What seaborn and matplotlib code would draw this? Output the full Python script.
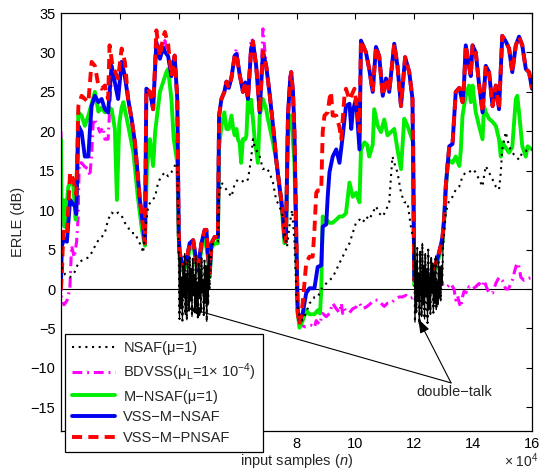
import numpy as np
import matplotlib
matplotlib.use("Agg")
import matplotlib.pyplot as plt
import seaborn as sns
from matplotlib.ticker import FuncFormatter, MultipleLocator

# Sample positions are listed in units of 10^4 input samples.
UNIT = 1e4

# ---- NSAF (mu = 1) ----
nsaf_n_a = [0.00, 0.03, 0.15, 0.31, 0.47, 0.59, 0.70, 0.81, 0.93, 1.04,
            1.15, 1.27, 1.38, 1.49, 1.60, 1.72, 1.83, 1.94, 2.06, 2.17,
            2.28, 2.40, 2.51, 2.62, 2.73, 2.79, 2.85, 2.96, 3.08, 3.19,
            3.30, 3.41, 3.53, 3.64, 3.75, 3.86, 3.95]
nsaf_a = [7.0, 2.5, 1.8, 1.5, 2.2, 3.3, 3.6, 3.8, 4.0, 4.6,
          5.4, 6.2, 6.6, 7.1, 8.8, 9.7, 9.4, 9.7, 9.3, 8.4,
          7.8, 7.1, 7.1, 6.2, 5.4, 4.6, 7.0, 10.5, 11.3, 11.6,
          13.5, 14.3, 14.8, 14.3, 14.8, 15.6, 16.0]
# first double-talk interval (4.00 .. 5.05)
dt1_span = (4.00, 5.05)
nsaf_dt1 = [4.5, -3.8, 3.9, -2.5, 1.5, -4.0, 3.0, -1.0, 4.5, -3.2,
            2.0, -3.9, 3.8, 0.5, -2.8, 4.1, -1.5, 2.6, -3.5, 3.9,
            -0.8, 1.8, -3.0, 4.4, -2.2, 0.9, -3.6, 3.2, -1.2, 2.5,
            -2.9, 4.0, -0.5, 1.2, -3.3, 3.6, -1.8, 2.9, -4.1, 3.0,
            -2.0, 4.3, 0.0]
nsaf_n_b = [5.11, 5.22, 5.33, 5.37, 5.45, 5.62, 5.79, 5.90, 6.01, 6.12,
            6.24, 6.35, 6.46, 6.52, 6.58, 6.75, 6.86, 6.97, 7.08, 7.20,
            7.31, 7.42, 7.54, 7.62, 7.68, 7.76, 7.85, 7.93, 8.00, 8.10,
            8.20, 8.33, 8.44, 8.55, 8.61, 8.72, 8.89, 9.01, 9.12, 9.23,
            9.35, 9.46, 9.57, 9.68, 9.80, 9.91, 10.02, 10.14, 10.25, 10.36,
            10.47, 10.59, 10.70, 10.81, 10.93, 11.04, 11.15, 11.21, 11.26, 11.32,
            11.43, 11.55, 11.66, 11.77, 11.90]
nsaf_b = [5.5, 5.9, 6.0, 12.0, 13.5, 12.6, 11.7, 13.3, 13.9, 13.8,
          13.5, 13.9, 16.5, 19.0, 18.0, 16.8, 15.2, 15.4, 14.8, 13.5,
          11.3, 10.5, 9.2, 6.5, 5.4, 8.0, 10.0, 6.0, -1.0, -3.5,
          -4.0, -3.0, -1.8, -1.5, -1.0, -1.0, 0.3, 0.7, 1.1, 1.5,
          2.4, 3.3, 4.1, 5.0, 5.8, 7.1, 8.4, 8.8, 8.4, 9.2,
          8.8, 9.7, 10.5, 9.6, 9.2, 10.0, 11.0, 14.3, 16.8, 16.0,
          14.8, 12.2, 11.0, 11.0, 7.5]
# second double-talk interval (12.00 .. 13.00)
dt2_span = (12.00, 13.00)
nsaf_dt2 = [6.0, -4.2, 3.5, -3.0, 5.2, -1.5, 2.0, -4.4, 4.8, 0.5,
            -3.5, 5.8, -2.0, 3.0, -3.8, 4.5, -1.0, 2.5, -4.3, 5.0,
            -2.5, 1.5, -3.2, 4.0, -0.5, 3.3, -3.0, 2.0, -1.8, 4.2,
            -2.6, 1.0, -2.0, 3.5, -1.2, 2.8, -1.5, 3.0, 0.5, 5.0,
            6.5]
nsaf_n_c = [13.02, 13.07, 13.13, 13.19, 13.30, 13.41, 13.53, 13.64, 13.75, 13.86,
            13.98, 14.09, 14.20, 14.32, 14.37, 14.43, 14.54, 14.66, 14.77, 14.88,
            14.94, 14.99, 15.11, 15.22, 15.33, 15.45, 15.56, 15.67, 15.79, 15.90,
            16.00]
nsaf_c = [7.1, 9.7, 10.5, 11.3, 11.7, 12.6, 13.0, 14.3, 14.8, 14.8,
          15.2, 14.8, 13.9, 13.0, 14.3, 15.6, 14.8, 13.9, 13.0, 12.6,
          14.8, 17.7, 19.9, 18.1, 17.3, 16.8, 16.4, 17.3, 17.5, 17.7,
          17.7]

# ---- BDVSS (mu_L = 1e-4) ----
bdvss_n = [0.00, 0.01, 0.10, 0.20, 0.30, 0.36, 0.45, 0.53, 0.58, 0.62,
           0.70, 0.81, 0.93, 0.98, 1.04, 1.10, 1.21, 1.32, 1.43, 1.49,
           1.60, 1.72, 1.83, 1.94, 2.06, 2.17, 2.28, 2.40, 2.51, 2.68,
           2.79, 2.85, 2.90, 3.02, 3.13, 3.24, 3.36, 3.47, 3.53, 3.64,
           3.75, 3.86, 3.95, 4.00, 4.03, 4.15, 4.26, 4.37, 4.49, 4.60,
           4.65, 4.77, 4.88, 4.94, 4.99, 5.05, 5.11, 5.22, 5.33, 5.37,
           5.45, 5.55, 5.62, 5.70, 5.79, 5.90, 5.96, 6.07, 6.18, 6.26,
           6.35, 6.46, 6.52, 6.63, 6.75, 6.86, 6.97, 7.08, 7.25, 7.31,
           7.42, 7.48, 7.54, 7.59, 7.64, 7.71, 7.78, 7.82, 7.88, 7.93,
           7.99, 8.04, 8.10, 8.30, 8.50, 8.61, 8.67, 8.78, 8.89, 9.01,
           9.12, 9.23, 9.35, 9.46, 9.52, 9.57, 9.63, 9.68, 9.80, 9.91,
           10.02, 10.14, 10.25, 10.36, 10.47, 10.64, 10.76, 10.87, 10.98, 11.09,
           11.21, 11.32, 11.49, 11.60, 11.72, 11.85, 12.00, 12.20, 12.40, 12.60,
           12.75, 12.90, 13.02, 13.13, 13.24, 13.35, 13.41, 13.47, 13.53, 13.58,
           13.64, 13.69, 13.81, 13.86, 13.98, 14.09, 14.20, 14.32, 14.37, 14.48,
           14.54, 14.66, 14.77, 14.88, 14.99, 15.11, 15.20, 15.33, 15.42, 15.49,
           15.56, 15.62, 15.73, 15.84, 16.00]
bdvss = [20.0, -1.0, -2.0, -1.5, 0.0, 5.5, 4.0, 6.0, 9.0, 16.0,
         16.0, 15.5, 15.2, 14.3, 17.0, 21.6, 21.0, 19.9, 20.5, 19.0,
         19.0, 27.5, 26.2, 24.1, 28.8, 27.0, 24.1, 21.5, 18.6, 11.3,
         7.9, 5.8, 25.4, 25.0, 22.8, 31.3, 29.2, 30.6, 31.5, 29.5,
         27.0, 29.6, 24.1, 7.1, 4.6, 2.8, 3.5, 5.8, 6.2, 3.5,
         2.4, 5.8, 7.5, 7.5, 4.5, 2.0, 5.8, 6.6, 6.6, 22.0,
         24.1, 25.0, 26.3, 25.5, 26.8, 29.6, 30.5, 27.2, 25.0, 26.2,
         24.1, 31.8, 31.4, 28.3, 22.4, 33.0, 28.3, 25.0, 19.0, 16.4,
         13.0, 11.3, 9.2, 6.6, 6.0, 22.0, 27.0, 27.5, 25.0, 19.9,
         7.1, -2.7, -4.5, -4.8, -4.6, -4.9, -4.0, -4.5, -3.1, -3.5,
         -3.1, -1.8, -2.5, -3.0, -1.8, -3.1, -2.5, -2.8, -3.0, -2.5,
         -2.3, -1.8, -2.5, -2.3, -2.0, -1.4, -1.4, -1.8, -2.2, -1.8,
         -1.8, -1.4, -1.0, -1.0, -0.8, -1.2, -1.0, -0.5, 0.0, 0.3,
         0.7, 0.5, 0.7, 0.3, 0.7, 0.0, -1.4, -0.8, -1.8, -2.3,
         -1.0, -0.3, -0.5, 0.3, 0.0, 0.3, 0.7, 0.3, 1.1, 0.0,
         -0.5, -0.5, 0.7, 1.5, 1.1, 0.0, 0.0, 1.1, 2.4, 3.3,
         2.8, 1.5, 1.1, 1.3, 1.5]

# ---- M-NSAF (mu = 1) ----
mnsaf_n = [0.00, 0.02, 0.08, 0.12, 0.25, 0.36, 0.42, 0.50, 0.59, 0.70,
           0.81, 0.93, 1.04, 1.15, 1.27, 1.38, 1.49, 1.60, 1.72, 1.83,
           1.90, 1.98, 2.06, 2.12, 2.24, 2.35, 2.46, 2.60, 2.75, 2.85,
           2.92, 3.02, 3.13, 3.20, 3.36, 3.58, 3.64, 3.75, 3.83, 3.95,
           4.00, 4.03, 4.15, 4.26, 4.37, 4.49, 4.60, 4.65, 4.77, 4.88,
           4.99, 5.05, 5.11, 5.22, 5.33, 5.37, 5.45, 5.55, 5.62, 5.70,
           5.79, 5.85, 5.90, 5.96, 6.01, 6.07, 6.12, 6.18, 6.26, 6.30,
           6.35, 6.40, 6.46, 6.58, 6.69, 6.75, 6.86, 6.97, 7.03, 7.08,
           7.20, 7.31, 7.48, 7.59, 7.64, 7.71, 7.82, 7.93, 7.99, 8.04,
           8.10, 8.21, 8.33, 8.44, 8.61, 8.72, 8.80, 8.84, 8.89, 9.01,
           9.12, 9.23, 9.35, 9.46, 9.57, 9.68, 9.80, 9.91, 10.02, 10.14,
           10.19, 10.31, 10.40, 10.47, 10.59, 10.64, 10.76, 10.87, 10.98, 11.09,
           11.21, 11.32, 11.43, 11.55, 11.66, 11.77, 11.89, 11.97, 12.00, 12.15,
           12.30, 12.50, 12.65, 12.80, 12.90, 12.96, 13.02, 13.07, 13.13, 13.19,
           13.30, 13.41, 13.53, 13.58, 13.64, 13.75, 13.86, 13.92, 13.98, 14.09,
           14.20, 14.32, 14.37, 14.43, 14.54, 14.66, 14.77, 14.88, 14.94, 14.99,
           15.11, 15.22, 15.33, 15.45, 15.50, 15.56, 15.67, 15.79, 15.85, 16.00]
mnsaf = [19.0, 8.8, 11.3, 7.9, 13.0, 13.9, 13.0, 8.8, 22.4, 22.0,
         20.7, 22.0, 23.5, 25.0, 22.5, 23.0, 22.4, 22.8, 22.8, 20.3,
         11.3, 21.0, 23.0, 23.7, 21.5, 19.4, 17.3, 12.0, 7.5, 5.5,
         15.5, 19.0, 15.6, 20.0, 25.0, 27.5, 27.9, 24.1, 19.0, 16.0,
         6.5, 4.0, 2.3, 3.0, 5.0, 5.5, 3.0, 2.0, 5.0, 6.8,
         4.0, 1.5, 5.2, 5.8, 5.8, 18.0, 20.7, 22.4, 20.3, 20.3,
         22.0, 20.3, 19.5, 20.3, 19.0, 18.5, 16.0, 19.0, 19.0, 19.5,
         24.1, 22.4, 24.0, 19.0, 16.0, 22.0, 24.1, 22.8, 21.5, 20.7,
         18.6, 16.4, 11.3, 5.8, 6.0, 20.0, 22.0, 16.0, 6.0, -3.0,
         -4.9, -4.0, -2.7, -3.2, -3.2, -2.7, -3.1, -0.1, 9.2, 8.8,
         8.4, 8.4, 8.8, 9.2, 9.2, 9.6, 13.5, 11.7, 12.2, 11.0,
         17.7, 18.6, 18.3, 16.8, 18.3, 22.8, 20.7, 19.9, 21.5, 19.5,
         19.9, 20.3, 17.7, 15.2, 21.6, 20.7, 19.4, 18.6, 0.5, 1.0,
         0.5, 1.0, 2.0, 3.5, 5.0, 6.0, 9.0, 12.5, 16.0, 16.3,
         16.0, 16.8, 15.6, 17.5, 22.0, 24.5, 25.8, 23.7, 25.8, 22.4,
         20.7, 19.0, 23.2, 22.4, 21.6, 21.2, 20.7, 19.0, 16.8, 18.6,
         17.9, 17.3, 18.0, 24.1, 24.5, 22.4, 18.1, 16.8, 18.1, 17.7]

# ---- VSS-M-NSAF ----
vss_nsaf_n = [0.00, 0.03, 0.10, 0.20, 0.31, 0.40, 0.47, 0.52, 0.59, 0.70,
              0.81, 0.93, 0.98, 1.04, 1.15, 1.27, 1.38, 1.49, 1.60, 1.72,
              1.83, 1.94, 2.06, 2.17, 2.28, 2.40, 2.51, 2.68, 2.79, 2.85,
              2.90, 3.02, 3.13, 3.24, 3.36, 3.47, 3.53, 3.64, 3.75, 3.86,
              3.95, 4.00, 4.03, 4.15, 4.26, 4.37, 4.49, 4.60, 4.65, 4.77,
              4.88, 4.94, 4.99, 5.05, 5.11, 5.22, 5.33, 5.37, 5.45, 5.55,
              5.62, 5.70, 5.79, 5.90, 5.96, 6.07, 6.18, 6.26, 6.35, 6.46,
              6.52, 6.63, 6.75, 6.86, 6.97, 7.08, 7.25, 7.31, 7.42, 7.48,
              7.54, 7.59, 7.64, 7.71, 7.78, 7.82, 7.88, 7.93, 7.99, 8.04,
              8.10, 8.21, 8.33, 8.44, 8.61, 8.72, 8.84, 8.89, 9.01, 9.06,
              9.12, 9.23, 9.35, 9.46, 9.57, 9.68, 9.80, 9.86, 9.91, 10.02,
              10.14, 10.19, 10.36, 10.47, 10.59, 10.70, 10.81, 10.93, 11.04, 11.15,
              11.32, 11.43, 11.55, 11.69, 11.83, 11.94, 12.00, 12.15, 12.30, 12.50,
              12.65, 12.80, 12.90, 12.96, 13.02, 13.07, 13.13, 13.19, 13.30, 13.41,
              13.53, 13.64, 13.69, 13.75, 13.86, 13.92, 13.98, 14.09, 14.20, 14.32,
              14.43, 14.54, 14.66, 14.77, 14.88, 14.99, 15.11, 15.22, 15.33, 15.45,
              15.56, 15.67, 15.79, 15.90, 16.00]
vss_nsaf = [1.0, 5.5, 6.3, 6.0, 11.3, 10.8, 10.5, 9.5, 20.7, 19.9,
            16.8, 16.8, 20.0, 23.2, 24.5, 23.7, 24.1, 22.8, 22.4, 28.3,
            26.2, 24.1, 28.8, 27.0, 24.1, 21.5, 18.6, 11.3, 7.9, 5.8,
            25.4, 25.0, 22.8, 31.3, 29.2, 30.6, 30.1, 29.5, 27.0, 29.6,
            24.1, 7.1, 4.6, 2.8, 3.5, 5.8, 6.2, 3.5, 2.4, 5.8,
            7.5, 7.5, 4.5, 2.0, 5.8, 6.6, 6.6, 22.0, 24.1, 25.0,
            26.3, 25.5, 26.8, 29.6, 29.8, 27.2, 25.0, 26.2, 24.1, 30.5,
            31.4, 28.3, 22.4, 30.1, 28.3, 25.0, 19.0, 16.4, 13.0, 11.3,
            9.2, 6.6, 6.0, 22.0, 26.3, 27.5, 25.0, 19.9, 7.1, -2.7,
            -4.0, -3.1, -0.5, 0.1, 0.1, 2.8, 3.0, 7.9, 8.2, 11.7,
            14.8, 16.8, 17.7, 16.0, 19.4, 23.2, 23.5, 20.3, 22.5, 24.1,
            17.7, 31.5, 30.0, 27.9, 25.0, 30.7, 29.5, 24.5, 26.7, 25.0,
            31.1, 28.3, 23.2, 29.4, 27.5, 24.1, 1.1, 1.5, 0.8, 1.5,
            2.5, 4.0, 5.5, 6.6, 9.2, 13.0, 15.6, 18.1, 18.4, 25.0,
            25.5, 23.7, 26.0, 30.9, 28.3, 27.0, 30.9, 30.0, 26.0, 22.4,
            28.3, 27.5, 23.2, 25.8, 22.8, 32.1, 31.4, 30.5, 27.5, 30.9,
            32.0, 30.9, 27.9, 27.5, 25.4]

# ---- VSS-M-PNSAF ----
vss_pnsaf_n = [0.00, 0.03, 0.08, 0.20, 0.31, 0.40, 0.47, 0.52, 0.59, 0.70,
               0.81, 0.93, 1.04, 1.15, 1.27, 1.38, 1.49, 1.60, 1.65, 1.75,
               1.94, 2.06, 2.17, 2.28, 2.40, 2.51, 2.68, 2.79, 2.85, 2.90,
               3.02, 3.13, 3.24, 3.36, 3.47, 3.53, 3.64, 3.75, 3.86, 3.95,
               4.00, 4.03, 4.15, 4.26, 4.37, 4.49, 4.60, 4.65, 4.77, 4.88,
               4.94, 4.99, 5.05, 5.11, 5.22, 5.33, 5.37, 5.45, 5.55, 5.62,
               5.70, 5.79, 5.90, 5.96, 6.07, 6.18, 6.26, 6.35, 6.46, 6.52,
               6.63, 6.75, 6.86, 6.97, 7.08, 7.25, 7.31, 7.42, 7.48, 7.54,
               7.59, 7.64, 7.71, 7.78, 7.82, 7.88, 7.93, 7.99, 8.04, 8.10,
               8.15, 8.21, 8.27, 8.33, 8.44, 8.55, 8.61, 8.67, 8.72, 8.84,
               8.89, 8.95, 9.06, 9.12, 9.17, 9.23, 9.35, 9.46, 9.52, 9.63,
               9.68, 9.80, 9.97, 10.08, 10.14,
               10.19, 10.36, 10.47, 10.59, 10.70, 10.81, 10.93, 11.04, 11.15, 11.32,
               11.43, 11.55, 11.69, 11.83, 11.94, 12.00, 12.15, 12.30, 12.50, 12.65,
               12.80, 12.90, 12.96, 13.02, 13.07, 13.13, 13.19, 13.30, 13.41, 13.53,
               13.64, 13.69, 13.75, 13.86, 13.92, 13.98, 14.09, 14.20, 14.32, 14.43,
               14.54, 14.66, 14.77, 14.88, 14.99, 15.11, 15.22, 15.33, 15.45, 15.56,
               15.67, 15.79, 15.90, 16.00]
vss_pnsaf = [0.0, 2.0, 7.5, 7.0, 14.8, 14.0, 13.0, 12.0, 23.2, 24.5,
             24.1, 23.7, 28.8, 28.3, 25.8, 25.4, 25.8, 24.1, 30.9, 28.3,
             26.7, 30.5, 28.8, 24.1, 21.5, 18.6, 11.3, 7.9, 5.8, 25.4,
             25.0, 22.8, 32.8, 29.5, 32.0, 32.6, 31.0, 27.0, 29.6, 24.1,
             7.1, 4.6, 2.8, 3.5, 5.8, 6.2, 3.5, 2.4, 5.8, 7.5,
             7.5, 4.5, 2.0, 5.8, 6.6, 6.6, 22.0, 24.1, 25.0, 26.3,
             25.5, 26.8, 29.6, 29.8, 27.2, 25.0, 26.2, 24.1, 30.5, 31.4,
             28.3, 22.4, 30.1, 28.3, 25.0, 19.0, 16.4, 13.0, 11.3, 9.2,
             6.6, 6.0, 22.0, 26.3, 27.5, 25.0, 19.9, 7.1, -3.0, -4.5,
             -3.5, -1.8, 0.7, 3.3, 4.1, 4.1, 7.5, 12.2, 12.5, 12.5,
             19.9, 22.0, 22.4, 24.1, 25.0, 22.0, 22.0, 20.5, 19.0, 24.5,
             25.4, 24.0, 25.4, 22.0, 20.0,
             31.5, 30.0, 27.9, 25.0, 30.7, 29.5, 24.5, 26.7, 25.0, 31.1,
             28.3, 23.2, 29.4, 27.5, 24.1, 1.1, 1.5, 0.8, 1.5, 2.5,
             4.0, 5.5, 6.6, 9.2, 13.0, 15.6, 18.1, 18.4, 25.0, 25.5,
             23.7, 26.0, 30.9, 28.3, 27.0, 30.9, 30.0, 26.0, 22.4, 28.3,
             27.5, 23.2, 25.8, 22.8, 32.1, 31.4, 30.5, 27.5, 30.9, 32.0,
             30.9, 27.9, 27.5, 25.4]

labels = ["NSAF(\u03bc=1)",
          "BDVSS(\u03bc$_\\mathregular{L}$=1\u00d7 10$^{\\mathregular{-4}}$)",
          "M\u2212NSAF(\u03bc=1)",
          "VSS\u2212M\u2212NSAF",
          "VSS\u2212M\u2212PNSAF"]
x_ticks = [0, 2, 4, 6, 8, 10, 12, 14, 16]
x_ticks_shown = [8, 10, 12, 14, 16]   # the others sit behind the legend box

# ---------------------------------------------------------------------------
sns.set_theme(style="white")
plt.rcParams["font.family"] = ["Liberation Sans", "DejaVu Sans"]
plt.rcParams["mathtext.fontset"] = "custom"
plt.rcParams["mathtext.rm"] = "Liberation Sans"
plt.rcParams["mathtext.it"] = "Liberation Sans:italic"
plt.rcParams["mathtext.bf"] = "Liberation Sans:bold"
plt.rcParams["axes.unicode_minus"] = True

FS = 10.5
fig = plt.figure(figsize=(5.4, 4.7), dpi=100)
ax = fig.add_axes([61 / 540, 1 - 431 / 470, 471 / 540, 418 / 470])

dt1_n = np.linspace(dt1_span[0], dt1_span[1], len(nsaf_dt1))
dt2_n = np.linspace(dt2_span[0], dt2_span[1], len(nsaf_dt2))
nsaf_n = np.concatenate([nsaf_n_a, dt1_n, nsaf_n_b, dt2_n, nsaf_n_c]) * UNIT
nsaf = np.concatenate([nsaf_a, nsaf_dt1, nsaf_b, nsaf_dt2, nsaf_c])

common = dict(ax=ax, estimator=None, sort=False, legend=False)

h_bd = sns.lineplot(x=np.array(bdvss_n) * UNIT, y=bdvss, color="#ff00ff", lw=2.2,
                    linestyle=(0, (3.2, 1.6, 0.6, 1.6)), **common).lines[-1]
h_m = sns.lineplot(x=np.array(mnsaf_n) * UNIT, y=mnsaf, color="#00ee00", lw=2.8,
                   **common).lines[-1]
h_v = sns.lineplot(x=np.array(vss_nsaf_n) * UNIT, y=vss_nsaf, color="#0000ee", lw=2.8,
                   **common).lines[-1]
h_p = sns.lineplot(x=np.array(vss_pnsaf_n) * UNIT, y=vss_pnsaf, color="#ff0000", lw=2.8,
                   linestyle=(0, (2.6, 1.6)), **common).lines[-1]
h_n = sns.lineplot(x=nsaf_n, y=nsaf, color="black", lw=1.5,
                   linestyle=(0, (1, 2.2)), **common).lines[-1]
# the strongly fluctuating double-talk stretches read as a continuous trace
sns.lineplot(x=dt1_n * UNIT, y=nsaf_dt1, color="black", lw=0.9, **common)
sns.lineplot(x=dt2_n * UNIT, y=nsaf_dt2, color="black", lw=0.9, **common)

ax.axhline(0, color="black", lw=0.8, zorder=1.8)

ax.set_xlim(0, 16 * UNIT)
ax.set_ylim(-18, 35)
ax.set_xticks([t * UNIT for t in x_ticks])
ax.xaxis.set_major_formatter(FuncFormatter(
    lambda v, pos: f"{v / UNIT:g}" if round(v / UNIT) in x_ticks_shown else ""))
ax.yaxis.set_major_locator(MultipleLocator(5))

ax.tick_params(direction="in", length=4, width=0.8, top=True, right=True,
               labelsize=FS, colors="black", pad=4)
for s in ax.spines.values():
    s.set_color("black")
    s.set_linewidth(0.9)

ax.set_xlabel("input samples ($n$)", fontsize=FS, labelpad=1)
ax.set_ylabel("ERLE (dB)", fontsize=FS, labelpad=4)
# axis multiplier below the right end of the x axis
fig.text(521 / 540, 0.5 / 470, "\u00d7 10$^{\\mathregular{4}}$", ha="center",
         va="bottom", fontsize=FS - 0.5)

# double-talk annotation
tail = (13.25 * UNIT, -11.9)
ax.text(13.37 * UNIT, -13.1, "double\u2212talk", ha="center", va="center",
        fontsize=FS)
arrow = dict(arrowstyle="-|>,head_length=0.7,head_width=0.25", color="black",
             lw=0.8, shrinkA=0, shrinkB=0)
ax.annotate("", xy=(4.31 * UNIT, -2.4), xytext=tail, arrowprops=arrow)
ax.annotate("", xy=(12.14 * UNIT, -3.8), xytext=tail, arrowprops=arrow)

leg = ax.legend([h_n, h_bd, h_m, h_v, h_p], labels,
                loc="lower left", bbox_to_anchor=(65 / 540, 1 - 452 / 470),
                bbox_transform=fig.transFigure, borderaxespad=0,
                fontsize=FS, handlelength=2.9, handletextpad=0.6,
                borderpad=0.5, labelspacing=0.45, fancybox=False,
                framealpha=1, edgecolor="black", facecolor="white")
leg.get_frame().set_linewidth(0.9)
leg.set_zorder(10)

fig.savefig("out.png", dpi=100)
